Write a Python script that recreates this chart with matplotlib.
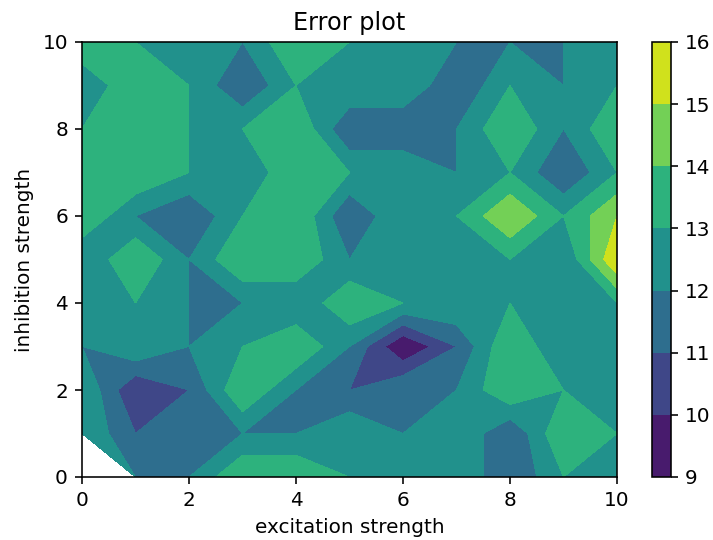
import numpy as np
import matplotlib
matplotlib.use("Agg")
import matplotlib.pyplot as plt

# excitation / inhibition strengths scanned
excitation = np.arange(0, 11)
inhibition = np.arange(0, 11)

# error for each (inhibition, excitation) pair, one row per inhibition value
err_inh0 = [np.nan, 12, 12, 14, 14, 13, 13, 13, 11, 13, 13]
err_inh1 = [13, 11, 12, 12, 12, 13, 12, 13, 11, 14, 13]
err_inh2 = [13, 10, 11, 14, 12, 11, 12, 12, 14, 13, 13]
err_inh3 = [12, 13, 12, 13, 14, 12, 9, 11, 14, 12, 13]
err_inh4 = [13, 13, 12, 12, 12, 14, 13, 13, 13, 13, 13]
err_inh5 = [12, 14, 12, 14, 14, 12, 13, 13, 13, 12, 16]
err_inh6 = [14, 12, 11, 13, 14, 11, 13, 13, 15, 13, 15]
err_inh7 = [14, 14, 13, 12, 14, 13, 13, 12, 13, 11, 13]
err_inh8 = [13, 14, 13, 13, 14, 11, 11, 12, 14, 12, 14]
err_inh9 = [12, 14, 13, 11, 13, 13, 13, 11, 13, 12, 13]
err_inh10 = [14, 13, 13, 12, 14, 13, 13, 12, 12, 12, 13]

errors = np.array([err_inh0, err_inh1, err_inh2, err_inh3, err_inh4, err_inh5,
                   err_inh6, err_inh7, err_inh8, err_inh9, err_inh10], dtype=float)

X, Y = np.meshgrid(excitation, inhibition)

fig = plt.figure(figsize=(713 / 144, 540 / 144), dpi=144)
ax = fig.add_axes([82 / 713, 1 - 477 / 540, 535 / 713, 435 / 540])
cax = fig.add_axes([652 / 713, 1 - 477 / 540, 19 / 713, 435 / 540])

cs = ax.contourf(X, Y, errors)
fig.colorbar(cs, cax=cax)

ax.set_title("Error plot")
ax.set_xlabel("excitation strength")
ax.set_ylabel("inhibition strength")

fig.savefig("out.png", dpi=144)
